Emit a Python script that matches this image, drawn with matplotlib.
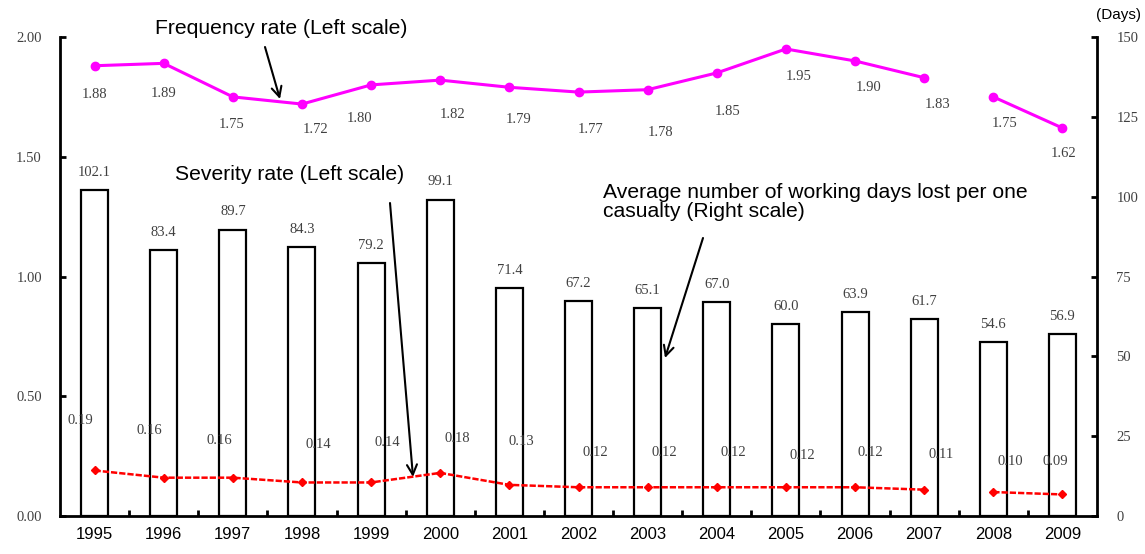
import matplotlib
matplotlib.use("Agg")
import matplotlib.pyplot as plt
import numpy as np

years = ["1995", "1996", "1997", "1998", "1999", "2000", "2001", "2002",
         "2003", "2004", "2005", "2006", "2007", "2008", "2009"]
frequency_rate = [1.88, 1.89, 1.75, 1.72, 1.80, 1.82, 1.79, 1.77, 1.78,
                  1.85, 1.95, 1.90, 1.83, 1.75, 1.62]
severity_rate = [0.19, 0.16, 0.16, 0.14, 0.14, 0.18, 0.13, 0.12, 0.12,
                 0.12, 0.12, 0.12, 0.11, 0.10, 0.09]
days_lost = [102.1, 83.4, 89.7, 84.3, 79.2, 99.1, 71.4, 67.2, 65.1, 67.0,
             60.0, 63.9, 61.7, 54.6, 56.9]
left_ticks = [0.0, 0.5, 1.0, 1.5, 2.0]
right_ticks = [0, 25, 50, 75, 100, 125, 150]

# label offsets in points (dx, dy)
freq_off = [(0, -21), (0, -22), (-1, -20), (10, -18), (-8, -24), (9, -25),
            (7, -23), (9, -27), (9, -31), (8, -28), (9, -20), (10, -19),
            (10, -19), (8, -19), (1, -18)]
sev_off = [(-10, 36), (-10, 34), (-10, 27), (12, 27), (12, 29), (12, 25),
           (9, 31), (12, 25), (12, 25), (12, 25), (12, 23), (11, 25),
           (12, 25), (12, 22), (-5, 24)]

gap_after = 12  # series break between 2007 and 2008

DPI = 100
fig = plt.figure(figsize=(11.45, 5.54), dpi=DPI)
ax = fig.add_axes([60 / 1145, 1 - 516 / 554, 1037 / 1145, 479 / 554])
ax2 = ax.twinx()

x = np.arange(len(years))
label_color = "#404040"
serif = "Liberation Serif"
sans = "Liberation Sans"
lab_size = 10.5

# bars on right axis (drawn below lines)
ax2.set_zorder(1)
ax.set_zorder(2)
ax.patch.set_visible(False)
ax2.bar(x, days_lost, width=0.39, color="white", edgecolor="black",
        linewidth=1.6)
for xi, v in zip(x, days_lost):
    ax2.annotate(f"{v:.1f}", (xi, v), xytext=(0, 8), textcoords="offset points",
                 ha="center", va="bottom", fontsize=lab_size, family=serif,
                 color=label_color)
ax2.set_ylim(0, 150)
ax2.set_yticks(right_ticks)

# lines on left axis
segs = [slice(0, gap_after + 1), slice(gap_after + 1, len(years))]
fr = np.array(frequency_rate)
sr = np.array(severity_rate)
for s in segs:
    ax.plot(x[s], fr[s], color="#FF00FF", linewidth=2.2, marker="o",
            markersize=6, zorder=5)
    ax.plot(x[s], sr[s], color="#FF0000", linewidth=1.8, linestyle=(0, (2.5, 0.8)),
            marker="D", markersize=4.5, zorder=5)

for xi, v, (dx, dy) in zip(x, frequency_rate, freq_off):
    ax.annotate(f"{v:.2f}", (xi, v), xytext=(dx, dy), textcoords="offset points",
                ha="center", va="center", fontsize=lab_size, family=serif,
                color=label_color)
for xi, v, (dx, dy) in zip(x, severity_rate, sev_off):
    ax.annotate(f"{v:.2f}", (xi, v), xytext=(dx, dy), textcoords="offset points",
                ha="center", va="center", fontsize=lab_size, family=serif,
                color=label_color)

ax.set_ylim(0, 2.0)
ax.set_yticks(left_ticks)
ax.set_yticklabels([f"{t:.2f}" for t in left_ticks])
ax.set_xlim(-0.5, len(years) - 0.5)
ax.set_xticks(x)
ax.set_xticklabels(years, family=sans, fontsize=12, color="black")
ax.set_xticks(np.arange(0.5, len(years) - 1, 1.0), minor=True)
ax.tick_params(axis="x", which="major", length=0, pad=8)
ax.tick_params(axis="x", which="minor", direction="in", length=4, width=2)
ax.tick_params(axis="y", direction="in", length=4, width=2, pad=13,
               labelsize=lab_size, labelcolor=label_color)
ax2.tick_params(axis="y", direction="in", length=4, width=2, pad=14,
                labelsize=lab_size, labelcolor=label_color)
for lab in ax.get_yticklabels() + ax2.get_yticklabels():
    lab.set_family(serif)

for a in (ax, ax2):
    a.spines["top"].set_visible(False)
    for sp in ("left", "right", "bottom"):
        a.spines[sp].set_linewidth(2)
ax2.spines["left"].set_visible(False)
ax2.spines["bottom"].set_visible(False)
ax.spines["right"].set_visible(False)

# annotations (figure pixel coords -> figure fraction)
def fp(px, py):
    return (px / 1145, 1 - py / 554)

arrow = dict(arrowstyle="->", color="black", linewidth=1.5,
             mutation_scale=18, shrinkA=0, shrinkB=0)
ann_size = 15.2
fig.text(*fp(155, 28), "Frequency rate (Left scale)", fontsize=ann_size,
         family=sans, ha="left", va="center")
ax.annotate("", xy=fp(280, 99), xycoords="figure fraction",
            xytext=fp(265, 47), textcoords="figure fraction", arrowprops=arrow)
fig.text(*fp(175, 175), "Severity rate (Left scale)", fontsize=ann_size,
         family=sans, ha="left", va="center")
ax.annotate("", xy=fp(413, 477), xycoords="figure fraction",
            xytext=fp(390, 203), textcoords="figure fraction", arrowprops=arrow)
fig.text(*fp(603, 202), "Average number of working days lost per one\ncasualty (Right scale)",
         fontsize=ann_size, family=sans, ha="left", va="center", linespacing=1.05)
ax.annotate("", xy=fp(665, 358), xycoords="figure fraction",
            xytext=fp(703, 238), textcoords="figure fraction", arrowprops=arrow)
fig.text(*fp(1141, 15), "(Days)", fontsize=11, family=sans, ha="right",
         va="center")

fig.savefig("out.png", dpi=DPI)
